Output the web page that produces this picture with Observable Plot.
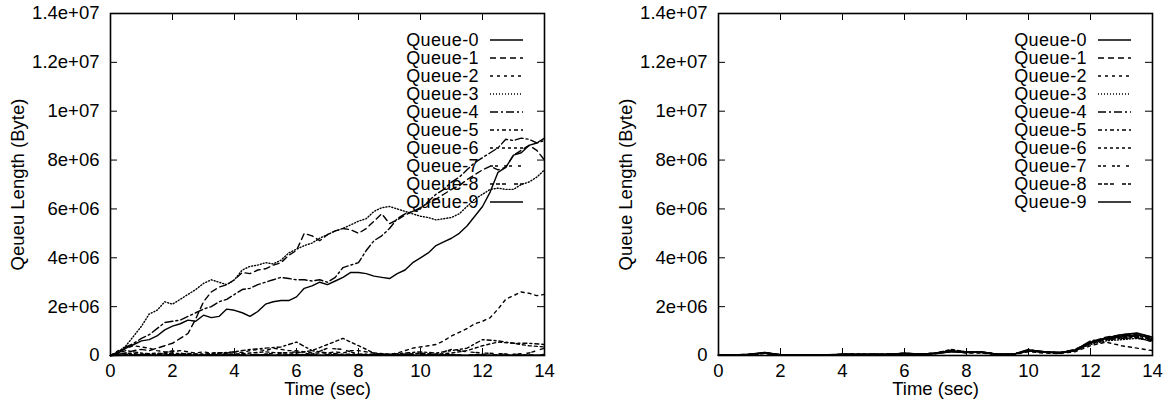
<!DOCTYPE html>
<html><head><meta charset="utf-8">
<script src="https://cdn.jsdelivr.net/npm/d3@7"></script>
<script src="https://cdn.jsdelivr.net/npm/@observablehq/plot@0.6"></script>
<style>
body{margin:0;background:#fff;}
#wrap{display:flex;width:1172px;height:404px;}
#wrap svg{font-family:"Liberation Sans",Arial,Helvetica,sans-serif;overflow:visible;}
</style></head><body><div id="wrap"></div>
<script>
// time (sec)
const time = [0,0.5,1,1.5,2,2.5,3,3.5,4,4.5,5,5.5,6,6.5,7,7.5,8,8.5,9,9.5,10,10.5,11,11.5,12,12.5,13,13.5,14];
const timeFine = [0,0.25,0.5,0.75,1,1.25,1.5,1.75,2,2.25,2.5,2.75,3,3.25,3.5,3.75,4,4.25,4.5,4.75,5,5.25,5.5,5.75,6,6.25,6.5,6.75,7,7.25,7.5,7.75,8,8.25,8.5,8.75,9,9.25,9.5,9.75,10,10.25,10.5,10.75,11,11.25,11.5,11.75,12,12.25,12.5,12.75,13,13.25,13.5,13.75,14];
const queueNames = ["Queue-0","Queue-1","Queue-2","Queue-3","Queue-4","Queue-5","Queue-6","Queue-7","Queue-8","Queue-9"];
const xTicks = [0,2,4,6,8,10,12,14];
const yTicks = [0,2e6,4e6,6e6,8e6,1e7,1.2e7,1.4e7];
const yTickLabels = ["0","2e+06","4e+06","6e+06","8e+06","1e+07","1.2e+07","1.4e+07"];
const xLabel = "Time (sec)";
const leftYLabel = "Qeueu Length (Byte)";
const rightYLabel = "Queue Length (Byte)";
const dashes = [null,"6,4","3,4","1,2","8,3,2,3","4,3,2,3","3,3","3,2,3,6","4,2,4,2,4,8",null];

// left panel, queue lengths in millions of bytes (fine series on timeFine)
const left0 = [0,0.1,0.3,0.45,0.6,0.65,0.8,1.05,1.2,1.3,1.45,1.4,1.65,1.55,1.6,1.9,1.85,1.75,1.6,1.8,2.1,2.2,2.25,2.25,2.4,2.75,2.85,3.0,2.9,3.05,3.2,3.4,3.4,3.35,3.25,3.2,3.15,3.35,3.5,3.8,4.0,4.2,4.5,4.65,4.8,5.0,5.3,5.7,6.1,6.7,7.5,7.7,8.2,8.3,8.6,8.7,8.9];
const left1 = [0,0.05,0.1,0.2,0.25,0.2,0.3,0.4,0.5,0.7,0.9,1.5,2.2,2.6,2.8,2.9,3.1,3.4,3.35,3.5,3.55,3.7,3.8,4.1,4.3,5.0,4.9,4.7,4.95,5.1,5.2,5.15,5.0,5.2,5.5,5.8,5.4,5.55,5.75,5.9,6.05,6.25,6.4,6.6,6.8,6.95,7.2,7.4,7.6,7.75,7.6,7.7,8.2,8.4,8.6,8.4,8.0];
const left2 = [0,0.2,0.3,0.4,0.35,0.3,0.2,0.15,0.15,0.2,0.15,0.1,0.15,0.1,0.12,0.1,0.15,0.12,0.2,0.25,0.2,0.3,0.25,0.2,0.2,0.15,0.1,0.1,0.1,0.15,0.1,0.2,0.2,0.15,0.1,0.05,0.05,0.1,0.2,0.3,0.35,0.4,0.45,0.6,0.8,0.95,1.1,1.3,1.4,1.55,1.9,2.3,2.45,2.6,2.55,2.45,2.5];
const left3 = [0,0.15,0.4,0.8,1.2,1.7,1.85,2.2,2.1,2.3,2.5,2.7,2.95,3.1,3.0,2.9,3.1,3.5,3.65,3.7,3.8,3.75,3.9,4.2,4.35,4.5,4.6,4.8,4.95,5.1,5.2,5.35,5.5,5.6,5.9,6.05,6.1,6.0,5.9,5.8,5.7,5.65,5.55,5.6,5.65,5.8,6.1,6.4,6.6,6.8,6.85,6.8,6.8,7.0,7.1,7.3,7.6];
const left4 = [0,0.15,0.35,0.5,0.7,0.85,1.1,1.35,1.4,1.45,1.6,1.75,1.9,2.0,2.2,2.3,2.5,2.7,2.75,2.9,3.0,3.1,3.2,3.15,3.1,3.1,3.05,3.1,3.0,3.2,3.6,3.7,3.8,4.3,4.7,4.9,5.2,5.6,5.8,5.9,6.0,6.3,6.6,6.8,7.1,7.3,7.6,7.9,8.1,8.3,8.5,8.85,8.8,8.9,8.85,8.7,8.8];
// left panel small queues (on time)
const left5 = [0,0.2,0.1,0.05,0.1,0.05,0.05,0.1,0.15,0.25,0.3,0.35,0.55,0.2,0.1,0.05,0.05,0.05,0.05,0.1,0.15,0.1,0.2,0.3,0.65,0.6,0.5,0.5,0.45];
const left6 = [0,0.1,0.05,0.1,0.05,0.08,0.05,0.1,0.05,0.1,0.15,0.1,0.1,0.2,0.45,0.7,0.4,0.1,0.05,0.05,0.1,0.05,0.1,0.2,0.4,0.55,0.5,0.4,0.35];
const left7 = [0,0.05,0.02,0.05,0.03,0.05,0.02,0.04,0.05,0.03,0.06,0.1,0.15,0.05,0.3,0.25,0.05,0.03,0.02,0.05,0.08,0.05,0.25,0.15,0.1,0.08,0.05,0.1,0.3];
const left8 = [0,0.02,0.05,0.02,0.2,0.02,0.03,0.02,0.05,0.02,0.03,0.02,0.05,0.02,0.03,0.02,0.04,0.02,0.03,0.02,0.05,0.02,0.03,0.02,0.05,0.02,0.03,0.02,0.04];
const left9 = [0,0.01,0.02,0.01,0.03,0.01,0.02,0.01,0.02,0.01,0.02,0.01,0.03,0.02,0.01,0.02,0.01,0.02,0.01,0.02,0.01,0.03,0.02,0.01,0.02,0.01,0.02,0.01,0.02];

// right panel, queue lengths in millions of bytes (on time)
const right0 = [0.02,0.02,0.04,0.12,0.03,0.02,0.03,0.02,0.04,0.05,0.04,0.05,0.08,0.05,0.08,0.15,0.12,0.14,0.05,0.05,0.18,0.15,0.1,0.2,0.5,0.7,0.8,0.85,0.7];
const right1 = [0.01,0.02,0.05,0.1,0.02,0.03,0.02,0.03,0.05,0.04,0.05,0.04,0.1,0.06,0.1,0.22,0.15,0.12,0.04,0.06,0.22,0.12,0.12,0.25,0.55,0.75,0.85,0.9,0.75];
const right2 = [0.02,0.01,0.03,0.08,0.02,0.02,0.03,0.02,0.03,0.04,0.03,0.04,0.06,0.04,0.07,0.18,0.1,0.1,0.03,0.04,0.15,0.1,0.08,0.15,0.4,0.55,0.4,0.3,0.2];
const right3 = [0.01,0.02,0.03,0.1,0.03,0.01,0.02,0.03,0.04,0.03,0.04,0.05,0.07,0.05,0.09,0.2,0.14,0.13,0.05,0.05,0.2,0.14,0.1,0.22,0.45,0.6,0.65,0.7,0.6];
const right4 = [0.02,0.02,0.04,0.11,0.02,0.02,0.02,0.02,0.05,0.05,0.04,0.04,0.09,0.05,0.08,0.16,0.12,0.15,0.04,0.05,0.25,0.16,0.12,0.22,0.6,0.7,0.75,0.8,0.65];
const right5 = [0.01,0.02,0.04,0.09,0.03,0.02,0.03,0.02,0.04,0.04,0.05,0.05,0.08,0.04,0.08,0.18,0.13,0.12,0.05,0.04,0.2,0.13,0.11,0.18,0.5,0.65,0.7,0.75,0.55];
const right6 = [0.02,0.01,0.03,0.12,0.02,0.03,0.02,0.03,0.04,0.05,0.04,0.05,0.07,0.05,0.1,0.25,0.14,0.13,0.04,0.05,0.22,0.15,0.1,0.24,0.55,0.7,0.8,0.85,0.7];
const right7 = [0.01,0.02,0.05,0.1,0.03,0.02,0.03,0.02,0.05,0.04,0.05,0.04,0.08,0.06,0.09,0.2,0.12,0.14,0.05,0.06,0.18,0.14,0.12,0.2,0.5,0.65,0.7,0.72,0.6];
const right8 = [0.02,0.02,0.04,0.1,0.02,0.02,0.02,0.03,0.04,0.05,0.04,0.05,0.09,0.05,0.09,0.17,0.13,0.14,0.04,0.05,0.2,0.15,0.11,0.22,0.52,0.68,0.75,0.8,0.62];
const right9 = [0.02,0.02,0.05,0.13,0.03,0.02,0.03,0.02,0.05,0.05,0.05,0.05,0.09,0.05,0.09,0.18,0.14,0.15,0.05,0.05,0.22,0.16,0.12,0.22,0.55,0.72,0.85,0.92,0.75];

const leftSeries = [[timeFine,left0],[timeFine,left1],[timeFine,left2],[timeFine,left3],[timeFine,left4],
  [time,left5],[time,left6],[time,left7],[time,left8],[time,left9]];
const rightSeries = [right0,right1,right2,right3,right4,right5,right6,right7,right8,right9].map(v => [time, v]);

const H = 404, MT = 13, MB = 49, FS = 18.5, LFS = 18;

function legendMark() {
  return (index, scales, values, dims) => {
    const g = d3.create("svg:g").attr("font-size", LFS).attr("fill", "#000")
      .attr("letter-spacing", "0.4px");
    const right = dims.width - dims.marginRight;
    queueNames.forEach((n, i) => {
      const y = dims.marginTop + 27 + i * 18;
      g.append("text").attr("x", right - 65).attr("y", y).attr("text-anchor", "end")
        .attr("dy", "0.35em").text(n);
      const l = g.append("line").attr("x1", right - 54).attr("x2", right - 21)
        .attr("y1", y).attr("y2", y).attr("stroke", "#000").attr("stroke-width", 1.3);
      if (dashes[i]) l.attr("stroke-dasharray", dashes[i]);
    });
    return g.node();
  };
}

function panel(series, yLabel, width, mLeft, mRight) {
  const innerH = H - MT - MB;
  const innerW = width - mLeft - mRight;
  const marks = [];
  series.forEach(([ts, vals], q) => {
    const rows = ts.map((t, i) => ({t, v: vals[i] * 1e6}));
    marks.push(Plot.line(rows, {x: "t", y: "v", stroke: "#000", strokeWidth: 1.4,
      strokeDasharray: dashes[q] || undefined}));
  });
  marks.push(Plot.tickX(xTicks, {x: d => d, insetTop: innerH - 7, stroke: "#000", strokeWidth: 1}));
  marks.push(Plot.tickX(xTicks, {x: d => d, insetBottom: innerH - 7, stroke: "#000", strokeWidth: 1}));
  marks.push(Plot.tickY(yTicks, {y: d => d, insetRight: innerW - 7, stroke: "#000", strokeWidth: 1}));
  marks.push(Plot.tickY(yTicks, {y: d => d, insetLeft: innerW - 7, stroke: "#000", strokeWidth: 1}));
  marks.push(Plot.frame({stroke: "#000", strokeWidth: 1.6}));
  marks.push(Plot.axisX(xTicks, {tickSize: 0, tickPadding: 8, fontSize: FS, label: null, tickFormat: d => String(d)}));
  marks.push(Plot.axisY(yTicks, {tickSize: 0, tickPadding: 11, fontSize: FS, label: null,
    tickFormat: d => yTickLabels[yTicks.indexOf(d)]}));
  marks.push(Plot.text([xLabel], {text: d => d, frameAnchor: "bottom", dy: 34, fontSize: FS,
    lineAnchor: "middle", textAnchor: "middle"}));
  marks.push(Plot.text([yLabel], {text: d => d, frameAnchor: "left", dx: -92, rotate: -90, fontSize: FS,
    lineAnchor: "middle", textAnchor: "middle"}));
  marks.push(legendMark());
  return Plot.plot({
    width, height: H, marginLeft: mLeft, marginRight: mRight, marginTop: MT, marginBottom: MB,
    x: {domain: [0, 14]},
    y: {domain: [0, 1.4e7]},
    style: {fontFamily: '"Liberation Sans", Arial, Helvetica, sans-serif', color: "#000", background: "#fff"},
    marks
  });
}

const wrap = document.getElementById("wrap");
wrap.appendChild(panel(leftSeries, leftYLabel, 586, 110, 42));
wrap.appendChild(panel(rightSeries, rightYLabel, 586, 132, 20));
</script>
</body></html>
